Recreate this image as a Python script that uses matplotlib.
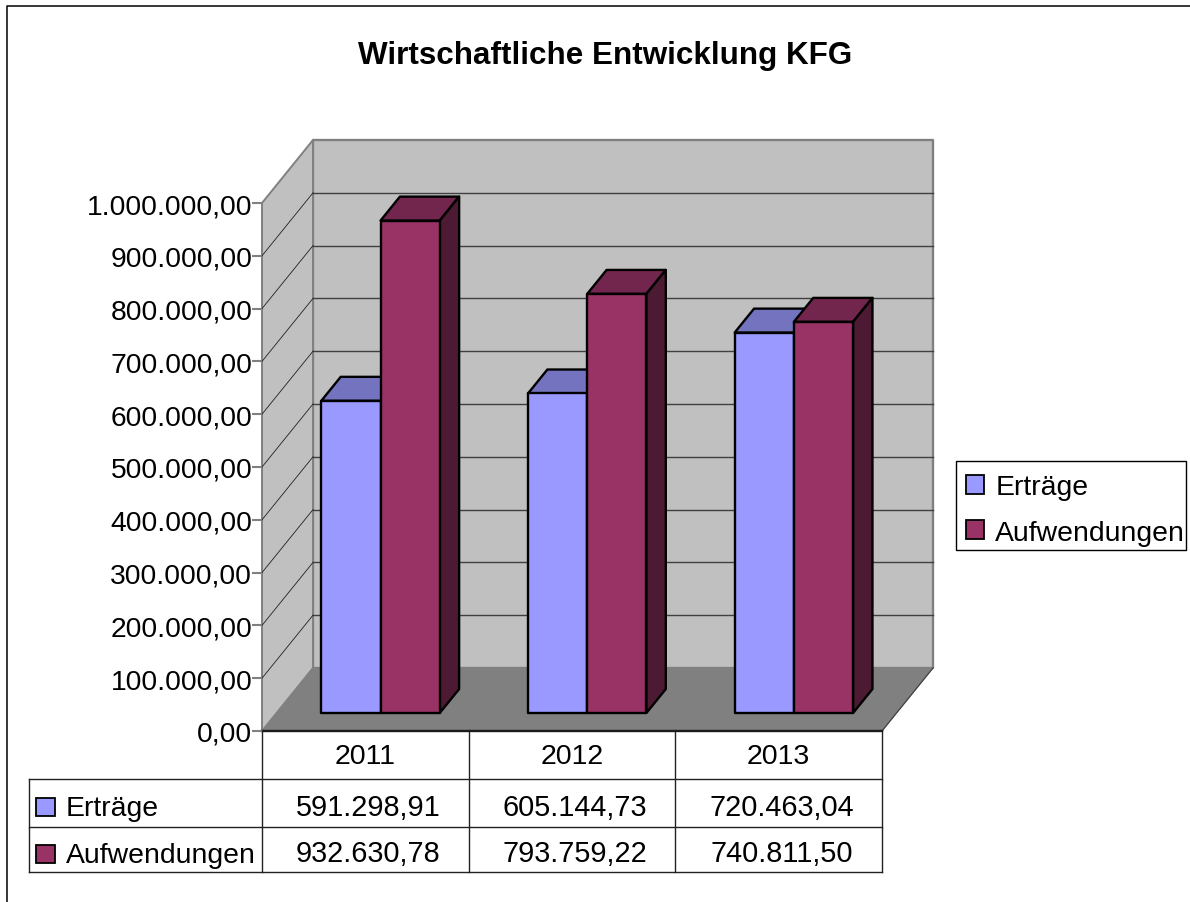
import matplotlib
matplotlib.use("Agg")
import matplotlib.pyplot as plt
from matplotlib.lines import Line2D
from matplotlib.patches import Patch, Polygon, Rectangle
from matplotlib.transforms import blended_transform_factory

plt.rcParams['font.family'] = ['Liberation Sans', 'DejaVu Sans']

# data
jahre = ["2011", "2012", "2013"]
ertraege = [591298.91, 605144.73, 720463.04]
aufwendungen = [932630.78, 793759.22, 740811.50]
serien = ["Erträge", "Aufwendungen"]
yticks = [0, 100000, 200000, 300000, 400000, 500000, 600000, 700000, 800000, 900000, 1000000]

BLAU = ("#9999ff", "#7373bf", "#4d4d80")
ROT = ("#993366", "#73264d", "#4d1a33")

W, H = 1190, 903
fig = plt.figure(figsize=(W / 100, H / 100), dpi=100)


def fx(px):
    return px / W


def fy(py):
    return 1 - py / H


def deutsch(v, stellen=2):
    s = f"{v:,.{stellen}f}"
    return s.replace(",", "X").replace(".", ",").replace("X", ".")


# axes = front plane of the 3d box
ax = fig.add_axes([fx(262), fy(732), fx(882) - fx(262), 528 / H])
ax.set_xlim(0, 3)
ax.set_ylim(0, 1000000)
ax.patch.set_visible(False)
for s in ax.spines.values():
    s.set_visible(False)

# depth of the box in data units
tiefe_x = 51 / 620 * 3
tiefe_y = 63 / 528 * 1000000


def p(x, y, d):
    return (x + d * tiefe_x, y + d * tiefe_y)


def flaeche(punkte, farbe, rand="black", lw=1.7, z=1):
    ax.add_patch(Polygon(punkte, closed=True, facecolor=farbe, edgecolor=rand, linewidth=lw,
                         joinstyle="round", clip_on=False, zorder=z))


# walls and floor
flaeche([p(0, 0, 1), p(3, 0, 1), p(3, 1000000, 1), p(0, 1000000, 1)], "#c0c0c0", "#808080", 1.7)
flaeche([p(0, 0, 0), p(0, 0, 1), p(0, 1000000, 1), p(0, 1000000, 0)], "#c0c0c0", "#808080", 1.4)
flaeche([p(0, 0, 0), p(3, 0, 0), p(3, 0, 1), p(0, 0, 1)], "#808080", "#808080", 0.5, z=1.1)
ax.plot(*zip(p(3, 0, 0), p(3, 0, 1)), color="#404040", lw=0.9, clip_on=False, zorder=1.3)
ax.plot([0, 3], [0, 0], color="#1a1a1a", lw=1.7, clip_on=False, zorder=1.5)

# grid on back and side wall
for t in yticks[1:-1]:
    ax.plot(*zip(p(0, t, 1), p(3, t, 1)), color="#404040", lw=1.0, clip_on=False, zorder=1.2)
    ax.plot(*zip(p(0, t, 0), p(0, t, 1)), color="#202020", lw=0.6, clip_on=False, zorder=1.2)

# bars
breite = 0.2865
start = 0.2165
d0, d1 = 0.286, 0.666
for i in range(len(jahre)):
    for k, (werte, farben) in enumerate([(ertraege, BLAU), (aufwendungen, ROT)]):
        x0 = i + start + k * breite
        x1 = x0 + breite
        v = werte[i]
        z = 2 + i + k * 0.1
        flaeche([p(x0, 0, d0), p(x1, 0, d0), p(x1, v, d0), p(x0, v, d0)], farben[0], z=z + 0.02)
        flaeche([p(x0, v, d0), p(x1, v, d0), p(x1, v, d1), p(x0, v, d1)], farben[1], z=z)
        flaeche([p(x1, 0, d0), p(x1, 0, d1), p(x1, v, d1), p(x1, v, d0)], farben[2], z=z)

# value axis
ax.set_xticks([])
ax.set_yticks(yticks)
ax.set_yticklabels([deutsch(t) for t in yticks], fontsize=20.3)
ax.tick_params(axis="y", length=7, width=1.5, color="#808080", pad=0)

# title
fig.text(fx(605), fy(56), "Wirtschaftliche Entwicklung KFG", fontsize=22.6, fontweight="bold",
         ha="center", va="center")

# outer frame, only left and top are inside the picture
fig.add_artist(Line2D([fx(7), fx(7), fx(W)], [fy(H), fy(6.5), fy(6.5)], color="black", lw=1.1))


# data table below the axes
def linie(x0, y0, x1, y1, farbe="#222222"):
    fig.add_artist(Line2D([fx(x0), fx(x1)], [fy(y0), fy(y1)], color=farbe, lw=1.0))


for xp in [262, 468.5, 675.3, 882]:
    linie(xp, 731, xp, 873)
linie(29, 779.5, 882, 779.5)
linie(29, 828, 882, 828)
linie(29, 873, 882, 873)
linie(29, 779.5, 29, 873)

tr = blended_transform_factory(ax.transData, fig.transFigure)
for i, j in enumerate(jahre):
    ax.text(i + 0.5, fy(757), j, transform=tr, fontsize=20.5, ha="center", va="center")
    ax.text(i + 0.515, fy(808), deutsch(ertraege[i]), transform=tr, fontsize=20.8, ha="center", va="center")
    ax.text(i + 0.515, fy(854), deutsch(aufwendungen[i]), transform=tr, fontsize=20.8, ha="center", va="center")

for name, farben, yp in zip(serien, [BLAU, ROT], [808, 855]):
    fig.add_artist(Rectangle((fx(36), fy(yp + 9)), 19 / W, 18 / H, transform=fig.transFigure,
                             facecolor=farben[0], edgecolor="black", linewidth=1.3))
    fig.text(fx(66), fy(yp + 1), name, fontsize=20.4, ha="left", va="center")

# legend, frame drawn on its own because the text nearly touches the right edge
ax.add_patch(Rectangle((fx(956), fy(551)), 230 / W, 89 / H, transform=fig.transFigure,
                       facecolor="white", edgecolor="black", linewidth=1.0, clip_on=False, zorder=19))
griffe = [Patch(facecolor=BLAU[0], edgecolor="black", linewidth=1.3, label=serien[0]),
          Patch(facecolor=ROT[0], edgecolor="black", linewidth=1.3, label=serien[1])]
leg = ax.legend(handles=griffe, loc="upper left", bbox_to_anchor=(fx(966), fy(475)),
                bbox_transform=fig.transFigure, fontsize=20.4, frameon=False,
                borderaxespad=0, handlelength=0.65, handleheight=0.65,
                handletextpad=0.38, labelspacing=0.7, borderpad=0)
leg.set_zorder(20)

fig.savefig("out.png", dpi=100)
